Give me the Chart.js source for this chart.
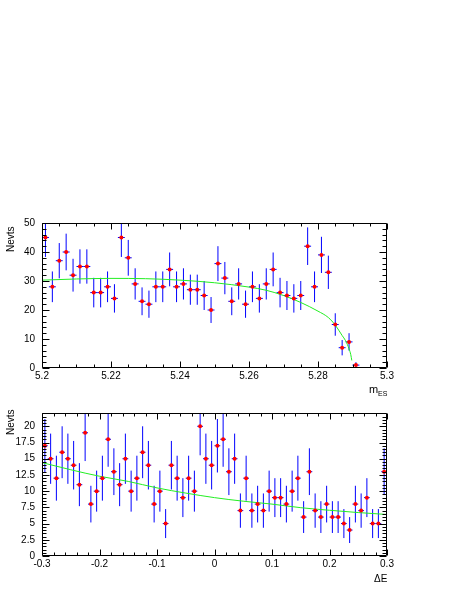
<!DOCTYPE html>
<html>
<head>
<meta charset="utf-8">
<title>mES and Delta E fits</title>
<script src="https://cdn.jsdelivr.net/npm/chart.js@4.4.0/dist/chart.umd.min.js"></script>
<style>
    body { margin: 0; background: #fff; }
    canvas { position: absolute; left: 0; }
</style>
</head>
<body>
<canvas id="mesChart" width="463" height="400" style="top:0"></canvas>
<canvas id="deChart" width="463" height="199" style="top:400px"></canvas>
<script>
// ---- top panel: m_ES ----
const mesBins = [5.201, 5.203, 5.205, 5.207, 5.209, 5.211, 5.213, 5.215, 5.217, 5.219,
    5.221, 5.223, 5.225, 5.227, 5.229, 5.231, 5.233, 5.235, 5.237, 5.239,
    5.241, 5.243, 5.245, 5.247, 5.249, 5.251, 5.253, 5.255, 5.257, 5.259,
    5.261, 5.263, 5.265, 5.267, 5.269, 5.271, 5.273, 5.275, 5.277, 5.279,
    5.281, 5.283, 5.285, 5.287, 5.289, 5.291];
const mesCounts = [45, 28, 37, 40, 32, 35, 35, 26, 26, 28,
    24, 45, 38, 29, 23, 22, 28, 28, 34, 28,
    29, 27, 27, 25, 20, 36, 31, 23, 29, 22,
    28, 24, 29, 34, 26, 25, 24, 25, 42, 28,
    39, 33, 15, 7, 9, 1];
const mesFitX = [5.2, 5.21, 5.22, 5.23, 5.24, 5.25, 5.26, 5.265, 5.27, 5.275,
    5.28, 5.283, 5.285, 5.287, 5.288, 5.289, 5.2895, 5.2898];
const mesFitY = [30.3, 30.7, 30.9, 30.8, 30.3, 29.4, 27.9, 26.8, 25.0, 22.6,
    19.6, 17.4, 14.8, 11.2, 9.4, 6.6, 4.6, 2.6];
const mesTicks = [5.2, 5.22, 5.24, 5.26, 5.28, 5.3];
const mesCountTicks = [0, 10, 20, 30, 40, 50];

// ---- bottom panel: Delta E ----
const deBins = [-0.295, -0.285, -0.275, -0.265, -0.255, -0.245, -0.235, -0.225, -0.215, -0.205,
    -0.195, -0.185, -0.175, -0.165, -0.155, -0.145, -0.135, -0.125, -0.115, -0.105,
    -0.095, -0.085, -0.075, -0.065, -0.055, -0.045, -0.035, -0.025, -0.015, -0.005,
    0.005, 0.015, 0.025, 0.035, 0.045, 0.055, 0.065, 0.075, 0.085, 0.095,
    0.105, 0.115, 0.125, 0.135, 0.145, 0.155, 0.165, 0.175, 0.185, 0.195,
    0.205, 0.215, 0.225, 0.235, 0.245, 0.255, 0.265, 0.275, 0.285, 0.295];
const deCounts = [17, 15, 12, 16, 15, 14, 11, 19, 8, 10,
    12, 18, 13, 11, 15, 10, 12, 16, 14, 8,
    10, 5, 14, 12, 9, 12, 10, 20, 15, 14,
    17, 18, 13, 15, 7, 12, 7, 8, 7, 10,
    9, 9, 8, 10, 12, 6, 13, 7, 6, 8,
    6, 6, 5, 4, 8, 7, 9, 5, 5, 13];
const deFitX = [-0.3, -0.25, -0.2, -0.15, -0.1, -0.05, 0, 0.05, 0.1, 0.15, 0.2, 0.25, 0.3];
const deFitY = [14.4, 13.3, 12.3, 11.5, 10.5, 9.7, 9.0, 8.45, 8.0, 7.45, 7.05, 6.7, 6.4];
const deTicks = [-0.3, -0.2, -0.1, 0, 0.1, 0.2, 0.3];
const deCountTicks = [0, 2.5, 5, 7.5, 10, 12.5, 15, 17.5, 20];

const FONT = "'Liberation Sans', Arial, sans-serif";

/**
 * Poisson error bars as broken line segments (vertical + bin width)
 */
function errorBars(xs, ys, halfWidth) {
    const pts = [];
    xs.forEach(function (x, i) {
        const e = Math.sqrt(ys[i]);
        pts.push({ x: x, y: ys[i] - e }, { x: x, y: ys[i] + e }, { x: x, y: null });
        pts.push({ x: x - halfWidth, y: ys[i] }, { x: x + halfWidth, y: ys[i] }, { x: x, y: null });
    });
    return pts;
}

function pairs(xs, ys) {
    return xs.map(function (x, i) { return { x: x, y: ys[i] }; });
}

// frame with inward ticks on all four sides, plus axis titles
const framePlugin = {
    id: 'frame',
    afterDatasetsDraw(chart, args, opts) {
        const ctx = chart.ctx;
        const a = chart.chartArea;
        const xs = chart.scales.x, ys = chart.scales.y;
        const L = Math.round(a.left) + 0.5, R = Math.round(a.right) - 0.5;
        const T = Math.round(a.top) + 0.5, B = Math.round(a.bottom) - 0.5;
        ctx.save();
        ctx.strokeStyle = '#000';
        ctx.lineWidth = 1;
        ctx.beginPath();
        ctx.rect(L, T, R - L, B - T);

        let n = Math.floor((xs.max - xs.min) / opts.xStep + 1e-6);
        for (let i = 0; i <= n; i++) {
            const px = Math.round(xs.getPixelForValue(xs.min + i * opts.xStep)) + 0.5;
            const len = i % opts.xSub === 0 ? 6 : 3;
            ctx.moveTo(px, B); ctx.lineTo(px, B - len);
            ctx.moveTo(px, T); ctx.lineTo(px, T + len);
        }
        n = Math.floor((ys.max - ys.min) / opts.yStep + 1e-6);
        for (let i = 0; i <= n; i++) {
            const py = Math.round(ys.getPixelForValue(ys.min + i * opts.yStep)) + 0.5;
            const len = i % opts.ySub === 0 ? 7 : 4;
            ctx.moveTo(L, py); ctx.lineTo(L + len, py);
            ctx.moveTo(R, py); ctx.lineTo(R - len, py);
        }
        ctx.stroke();

        ctx.fillStyle = '#000';
        ctx.textBaseline = 'alphabetic';
        ctx.textAlign = 'left';
        opts.titles.forEach(function (t) {
            ctx.save();
            ctx.font = t.size + 'px ' + FONT;
            ctx.translate(t.x, t.y);
            if (t.rotate) ctx.rotate(-Math.PI / 2);
            ctx.fillText(t.text, 0, 0);
            ctx.restore();
        });
        ctx.restore();
    }
};

function makeChart(id, cfg) {
    const canvas = document.getElementById(id);
    return new Chart(canvas, {
        type: 'scatter',
        data: {
            datasets: [{
                data: pairs(cfg.bins, cfg.counts),
                backgroundColor: '#ff0000',
                borderColor: '#ff0000',
                pointRadius: 2,
                pointBorderWidth: 0
            }, {
                data: pairs(cfg.fitX, cfg.fitY),
                showLine: true,
                borderColor: '#22ee22',
                borderWidth: 1,
                pointRadius: 0,
                cubicInterpolationMode: 'monotone'
            }, {
                data: errorBars(cfg.bins, cfg.counts, cfg.halfWidth),
                showLine: true,
                spanGaps: false,
                borderColor: '#0000ff',
                borderWidth: 1,
                pointRadius: 0
            }]
        },
        options: {
            responsive: false,
            animation: false,
            events: [],
            layout: { padding: { top: cfg.padTop, right: 76, left: 0, bottom: 0 } },
            plugins: {
                legend: { display: false },
                tooltip: { enabled: false },
                frame: cfg.frame
            },
            scales: {
                x: {
                    type: 'linear',
                    min: cfg.xMin,
                    max: cfg.xMax,
                    grid: { display: false, drawTicks: false },
                    border: { display: false },
                    afterBuildTicks: function (s) { s.ticks = cfg.xTicks.map(function (v) { return { value: v }; }); },
                    afterFit: function (s) { s.height = cfg.xHeight; },
                    ticks: {
                        color: '#000',
                        padding: 2,
                        maxRotation: 0,
                        autoSkip: false,
                        font: { family: FONT, size: 10 },
                        callback: function (v) { return String(+v.toFixed(3)); }
                    }
                },
                y: {
                    type: 'linear',
                    min: 0,
                    max: cfg.yMax,
                    grid: { display: false, drawTicks: false },
                    border: { display: false },
                    afterBuildTicks: function (s) { s.ticks = cfg.yTicks.map(function (v) { return { value: v }; }); },
                    afterFit: function (s) { s.width = 42; },
                    ticks: {
                        color: '#000',
                        padding: 7,
                        autoSkip: false,
                        font: { family: FONT, size: 10 },
                        callback: function (v) { return String(v); }
                    }
                }
            }
        },
        plugins: [framePlugin]
    });
}

makeChart('mesChart', {
    bins: mesBins, counts: mesCounts, fitX: mesFitX, fitY: mesFitY,
    halfWidth: 0.001, xMin: 5.2, xMax: 5.3, yMax: 50,
    xTicks: mesTicks, yTicks: mesCountTicks,
    padTop: 223, xHeight: 32,
    frame: {
        xStep: 0.005, xSub: 4, yStep: 2, ySub: 5,
        titles: [
            { text: 'Nevts', x: 14, y: 252, size: 10, rotate: true },
            { text: 'm', x: 369, y: 393, size: 11 },
            { text: 'ES', x: 378, y: 396, size: 7 }
        ]
    }
});

makeChart('deChart', {
    bins: deBins, counts: deCounts, fitX: deFitX, fitY: deFitY,
    halfWidth: 0.005, xMin: -0.3, xMax: 0.3, yMax: 22.05,
    xTicks: deTicks, yTicks: deCountTicks,
    padTop: 11, xHeight: 43,
    frame: {
        xStep: 0.02, xSub: 5, yStep: 0.5, ySub: 5,
        titles: [
            { text: 'Nevts', x: 14, y: 35, size: 10, rotate: true },
            { text: '\u0394E', x: 374, y: 182, size: 10 }
        ]
    }
});
</script>
</body>
</html>
